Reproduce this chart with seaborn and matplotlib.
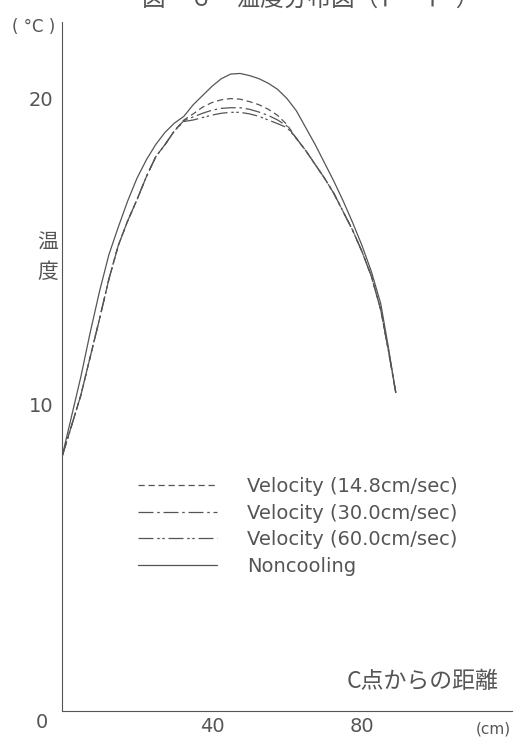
import matplotlib
matplotlib.use("Agg")
import matplotlib.pyplot as plt
import matplotlib.transforms as mtransforms
import seaborn as sns
import pandas as pd

# ---- data ----
distance = [0, 2.5, 5, 7.5, 10, 12.5, 15, 17.5, 20, 22.5, 25, 27.5, 30, 32.5, 35, 37.5,
            40, 42.5, 45, 47.5, 50, 52.5, 55, 57.5, 60, 62.5, 65, 67.5, 70, 72.5, 75,
            77.5, 80, 82.5, 85, 87, 89]
noncooling = [8.3, 9.6, 10.9, 12.35, 13.7, 14.9, 15.8, 16.65, 17.4, 18.0, 18.5, 18.9, 19.2,
              19.42, 19.8, 20.1, 20.4, 20.65, 20.8, 20.82, 20.75, 20.65, 20.5, 20.3, 20.0,
              19.6, 19.05, 18.5, 17.9, 17.3, 16.65, 15.95, 15.2, 14.35, 13.3, 11.9, 10.4]
vel_148 = [8.3, 9.3, 10.3, 11.55, 12.8, 14.1, 15.2, 16.0, 16.7, 17.45, 18.1, 18.5, 18.95,
           19.3, 19.5, 19.72, 19.87, 19.96, 20.0, 19.98, 19.9, 19.8, 19.65, 19.45, 19.15,
           18.7, 18.3, 17.85, 17.4, 16.9, 16.3, 15.7, 15.0, 14.2, 13.1, 11.8, 10.4]
vel_300 = [8.3, 9.3, 10.3, 11.55, 12.8, 14.1, 15.2, 16.0, 16.7, 17.45, 18.1, 18.5, 18.95,
           19.28, 19.4, 19.52, 19.62, 19.68, 19.7, 19.7, 19.65, 19.56, 19.45, 19.3, 19.1,
           18.7, 18.3, 17.85, 17.4, 16.9, 16.3, 15.7, 15.0, 14.2, 13.1, 11.8, 10.4]
vel_600 = [8.3, 9.3, 10.3, 11.55, 12.8, 14.1, 15.2, 16.0, 16.7, 17.45, 18.1, 18.5, 18.95,
           19.25, 19.3, 19.38, 19.46, 19.52, 19.55, 19.55, 19.5, 19.42, 19.3, 19.18, 19.05,
           18.7, 18.3, 17.85, 17.4, 16.9, 16.3, 15.7, 15.0, 14.2, 13.1, 11.8, 10.4]
series_labels = ["Velocity (14.8cm/sec)", "Velocity (30.0cm/sec)",
                 "Velocity (60.0cm/sec)", "Noncooling"]
x_ticks = [40, 80]
y_ticks = [0, 10, 20]

sns.set_style("white")
plt.rcParams['font.family'] = ['DejaVu Sans', 'Noto Sans CJK JP']
cjk = ['Noto Sans CJK JP', 'DejaVu Sans']

ink = "#555555"
fig = plt.figure(figsize=(5.31, 7.41), dpi=100)
ax = fig.add_axes([62 / 531, 30 / 741, 450 / 531, 689 / 741])

styles = [(0, (5, 3)), (0, (12, 3, 2, 3)), (0, (12, 3, 2, 2, 2, 3)), "-"]
values = [vel_148, vel_300, vel_600, noncooling]
for lab, vals, ls in zip(series_labels, values, styles):
    df = pd.DataFrame({"x": distance, "y": vals})
    sns.lineplot(data=df, x="x", y="y", ax=ax, color=ink, linewidth=0.9,
                 linestyle=ls, label=lab, sort=False)

ax.set_xlim(0, 120)
ax.set_ylim(0, 22.5)
ax.set_xticks(x_ticks)
ax.set_yticks(y_ticks)
ax.set_xticklabels([str(v) for v in x_ticks], fontsize=14, color=ink)
ax.set_yticklabels([str(v) for v in y_ticks], fontsize=14, color=ink)
ax.tick_params(axis='x', direction='in', length=3, width=0.8, color=ink, pad=4)
ax.tick_params(axis='y', direction='out', length=3, width=0.8, color=ink, pad=3)
lbl0 = ax.get_yticklabels()[0]
lbl0.set_transform(lbl0.get_transform() + mtransforms.ScaledTranslation(-4 / 72, -7 / 72, fig.dpi_scale_trans))
ax.set_xlabel("")
ax.set_ylabel("")
for s in ["top", "right"]:
    ax.spines[s].set_visible(False)
for s in ["left", "bottom"]:
    ax.spines[s].set_color(ink)
    ax.spines[s].set_linewidth(0.8)

leg = ax.legend(loc='upper left', bbox_to_anchor=(0.168, 0.34), frameon=False,
                fontsize=14, handlelength=4.1, handletextpad=1.55, labelspacing=0.4,
                borderpad=0, borderaxespad=0)
for t in leg.get_texts():
    t.set_color(ink)

# axis annotations
fig.text(12 / 531, 1 - 27 / 741, "( °C )", fontsize=12, color=ink, va='center', ha='left')
fig.text(48 / 531, 1 - 243 / 741, "温", fontsize=15, color=ink, va='center', ha='center', family=cjk)
fig.text(48 / 531, 1 - 272 / 741, "度", fontsize=15, color=ink, va='center', ha='center', family=cjk)
fig.text(499 / 531, 1 - 682 / 741, "C点からの距離", fontsize=16.5, color=ink, va='center',
         ha='right', family=cjk)
fig.text(511 / 531, 1 - 729 / 741, "(cm)", fontsize=11, color=ink, va='center', ha='right')
fig.text(311 / 531, 1 + 1 / 741, "図－６　温度分布図（Ｐ－Ｐ′）", fontsize=17, color=ink,
         va='center', ha='center', family=cjk)

fig.savefig("out.png", dpi=100)
